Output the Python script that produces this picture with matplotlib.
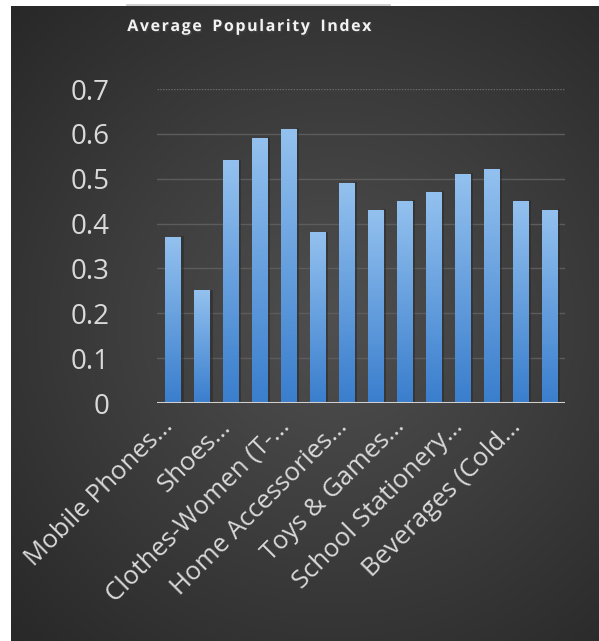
import matplotlib.pyplot as plt
import matplotlib.patheffects as pe
import matplotlib.transforms as mtransforms
from matplotlib.colors import LinearSegmentedColormap
import numpy as np

# values (14 categories, only every other label is shown)
values = [0.37, 0.25, 0.54, 0.59, 0.61, 0.38, 0.49, 0.43, 0.45, 0.47, 0.51, 0.52, 0.45, 0.43]
shown_labels = ["Mobile Phones…", "Shoes…", "Clothes-Women (T-…", "Home Accessories…",
                "Toys & Games…", "School Stationery…", "Beverages (Cold…"]
yticks = [0, 0.1, 0.2, 0.3, 0.4, 0.5, 0.6, 0.7]
title = "Average Popularity Index"

W, H = 599, 641
fig = plt.figure(figsize=(W / 100, H / 100), dpi=100, facecolor="white")

# dark radial background panel
bg = fig.add_axes([11 / W, 0, (W - 11) / W, (H - 6) / H])
yy, xx = np.mgrid[0:1:300j, 0:1:300j]
r = np.sqrt((xx - 0.55) ** 2 + ((yy - 0.5) * 1.1) ** 2)
bgmap = LinearSegmentedColormap.from_list("bg", ["#4f4f4f", "#3c3c3c", "#282828"])
bg.imshow(r, cmap=bgmap, vmin=0, vmax=0.78, extent=[0, 1, 0, 1],
          aspect="auto", origin="lower")
bg.set_axis_off()
fig.add_artist(plt.Line2D([127 / W, 390 / W], [1 - 5 / H, 1 - 5 / H],
                          color="#c8c8c8", lw=1.2))

ax = fig.add_axes([157 / W, 1 - 403 / H, (565 - 157) / W, (403 - 89) / H])
ax.patch.set_alpha(0)
x = np.arange(len(values))
bars = ax.bar(x, values, width=0.52, color="none", zorder=3)

grad = np.linspace(0, 1, 100).reshape(-1, 1)
cmap = LinearSegmentedColormap.from_list("b", ["#3a7ecd", "#93c1ef"])
for b in bars:
    bx, by = b.get_x(), b.get_y()
    ax.imshow(grad, cmap=cmap, extent=[bx, bx + b.get_width(), by, by + b.get_height()],
              aspect="auto", origin="lower", zorder=3)
    ax.add_line(plt.Line2D([bx + b.get_width() + 0.04] * 2, [0, b.get_height()],
                           color="#2a2a2a", lw=2, alpha=0.6, zorder=2))

ax.set_ylim(0, 0.7)
ax.set_yticks(yticks)
ax.set_yticklabels([f"{t:g}" for t in yticks])
for t in yticks[1:-1]:
    ax.axhline(t, color="#5c5c5c", lw=1, zorder=1)
ax.axhline(0.7, color="#6a6a6a", lw=1, ls=(0, (1, 1)), zorder=1)
ax.axhline(0, color="#d0d0d0", lw=2.2, zorder=4)

ax.set_xticks(x[::2])
ax.set_xticklabels(shown_labels, rotation=45, ha="right", rotation_mode="anchor")
for s in ax.spines.values():
    s.set_visible(False)
ax.tick_params(length=0, colors="#d9d9d9")
ax.tick_params(axis="y", pad=34, labelsize=20)
ax.tick_params(axis="x", pad=8, labelsize=18.5)
shift = mtransforms.ScaledTranslation(-12 / 100, 0, fig.dpi_scale_trans)
for lab in ax.get_xticklabels():
    lab.set_transform(lab.get_transform() + shift)
for lab in ax.get_xticklabels() + ax.get_yticklabels():
    lab.set_fontfamily("Open Sans")
    lab.set_color("#d9d9d9")
ax.set_xlim(-0.55, len(values) - 0.45)

spaced = "\u200a".join(title).replace("\u200a \u200a", "\u2009 \u2009")
fig.text(250 / W, 1 - 27 / H, spaced, ha="center", va="center", color="#f2f2f2",
         fontsize=11.5, fontweight="bold", family=["Open Sans", "DejaVu Sans"],
         path_effects=[pe.withSimplePatchShadow(offset=(1, -1), alpha=0.6)])

fig.savefig("out.png", dpi=100, facecolor="white")
